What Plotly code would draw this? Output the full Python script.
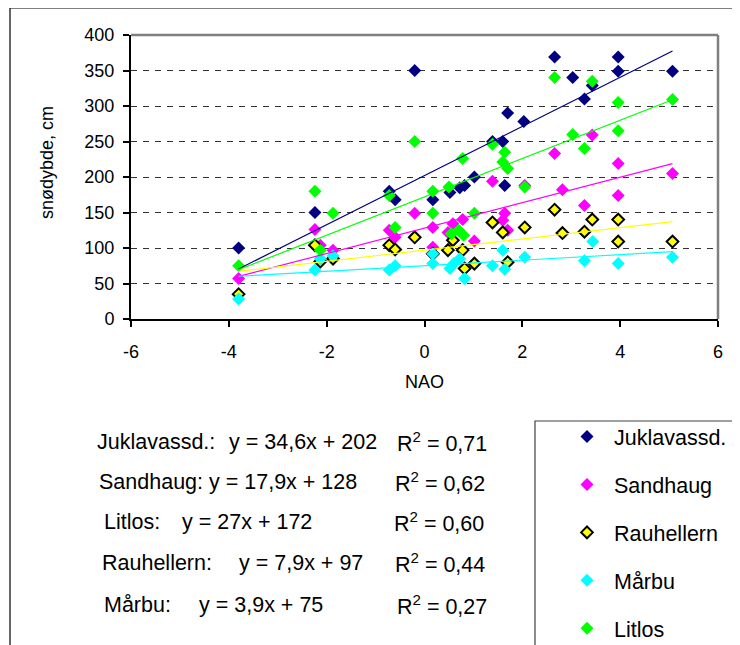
import plotly.graph_objects as go

# ---------------- data ----------------
stations = ["Juklavassd.", "Sandhaug", "Rauhellern", "Mårbu", "Litlos"]

jukl_x = [-3.8, -2.24, -0.72, -0.6, -0.2, 0.17, 0.52, 0.72, 0.82, 1.02, 1.39, 1.6, 1.64, 1.7, 2.03, 2.66, 3.03, 3.27, 3.43, 3.96, 3.96, 5.07]
jukl_y = [100, 150, 180, 168, 350, 168, 178, 185, 188, 200, 250, 250, 188, 290, 278, 369, 340, 310, 329, 369, 349, 349]

sand_x = [-3.8, -2.24, -2.13, -1.87, -0.72, -0.6, -0.2, 0.17, 0.17, 0.48, 0.58, 0.78, 1.02, 1.39, 1.6, 1.64, 1.7, 2.05, 2.66, 2.82, 3.27, 3.43, 3.96, 3.96, 5.07]
sand_y = [57, 126, 104, 97, 125, 115, 149, 129, 101, 122, 134, 140, 110, 194, 139, 149, 125, 188, 233, 182, 160, 259, 219, 174, 205]

rauh_x = [-3.8, -2.24, -2.13, -1.87, -0.72, -0.6, -0.2, 0.17, 0.48, 0.58, 0.78, 0.82, 1.02, 1.39, 1.6, 1.7, 2.05, 2.66, 2.82, 3.27, 3.43, 3.96, 3.96, 5.07]
rauh_y = [35, 104, 81, 85, 104, 98, 115, 92, 97, 111, 97, 71, 78, 136, 122, 80, 129, 154, 121, 123, 140, 140, 109, 109]

marb_x = [-3.8, -2.24, -2.13, -1.87, -0.72, -0.6, 0.17, 0.17, 0.52, 0.6, 0.72, 0.82, 1.39, 1.6, 1.64, 2.05, 3.27, 3.44, 3.96, 5.07]
marb_y = [28, 69, 85, 89, 69, 75, 78, 92, 71, 78, 85, 57, 75, 97, 70, 87, 82, 109, 78, 87]

litl_x = [-3.8, -2.24, -2.13, -1.87, -0.72, -0.6, -0.2, 0.17, 0.17, 0.5, 0.55, 0.7, 0.8, 0.78, 1.02, 1.39, 1.6, 1.64, 1.7, 2.05, 2.66, 3.03, 3.27, 3.43, 3.96, 3.96, 5.07]
litl_y = [75, 180, 97, 149, 174, 129, 250, 180, 149, 186, 120, 125, 118, 226, 149, 246, 221, 235, 212, 186, 340, 260, 240, 335, 305, 265, 309]

slopes = [34.6, 17.9, 7.9, 3.9, 27]
intercepts = [202, 128, 97, 75, 172]
r2 = ["0,71", "0,62", "0,44", "0,27", "0,60"]

x_ticks = [-6, -4, -2, 0, 2, 4, 6]
y_ticks = [0, 50, 100, 150, 200, 250, 300, 350, 400]

# ---------------- styling ----------------
colors = ["#000080", "#FF00FF", "#FFFF00", "#00FFFF", "#00FF00"]
FONT = "Liberation Sans, Arial, sans-serif"

OFF = 8                      # page body margin
W, H = 740 - OFF, 645 - OFF  # figure size
L, R, T, B = 131, 718, 35, 319  # plot area in page pixels


def px(x):
    return (x - L) / (R - L)


def py(y):
    return (B - y) / (B - T)


series = [(jukl_x, jukl_y), (sand_x, sand_y), (rauh_x, rauh_y), (marb_x, marb_y), (litl_x, litl_y)]

fig = go.Figure()
for i, (name, (xs, ys)) in enumerate(zip(stations, series)):
    line = dict(width=2, color="black") if name == "Rauhellern" else dict(width=0)
    fig.add_trace(go.Scatter(
        x=xs, y=ys, mode="markers", name=name, legendgroup=name,
        marker=dict(symbol="diamond", size=10 if name != "Rauhellern" else 9,
                    color=colors[i], line=line),
    ))

for i, (xs, ys) in enumerate(series):
    x0, x1 = min(xs), max(xs)
    fig.add_trace(go.Scatter(
        x=[x0, x1], y=[slopes[i] * x0 + intercepts[i], slopes[i] * x1 + intercepts[i]],
        mode="lines", line=dict(color=colors[i], width=1.2), showlegend=False, hoverinfo="skip",
    ))

fig.update_xaxes(range=[-6, 6], tickvals=x_ticks, ticktext=[str(v) for v in x_ticks],
                 showgrid=False, zeroline=False, showline=True, linecolor="black", linewidth=2,
                 ticks="outside", ticklen=6, tickwidth=1.5, tickcolor="black", ticklabelstandoff=9,
                 tickfont=dict(family=FONT, size=18, color="black"), fixedrange=True)
fig.update_yaxes(range=[0, 400], tickvals=y_ticks, ticktext=[str(v) for v in y_ticks],
                 showgrid=True, gridcolor="#333333", griddash="6px,6px", gridwidth=1,
                 zeroline=False, showline=True, linecolor="black", linewidth=2,
                 ticks="outside", ticklen=6, tickwidth=1.5, tickcolor="black", ticklabelstandoff=5,
                 tickfont=dict(family=FONT, size=18, color="black"), fixedrange=True)

shapes = [
    # outer chart frame
    dict(type="rect", xref="paper", yref="paper", x0=px(10), x1=px(800), y0=py(8), y1=py(700),
         line=dict(color="black", width=1.2), fillcolor="rgba(0,0,0,0)", layer="below"),
    # plot area border (top/right)
    dict(type="line", xref="paper", yref="paper", x0=0, x1=1, y0=1, y1=1,
         line=dict(color="#808080", width=2.5)),
    dict(type="line", xref="paper", yref="paper", x0=1, x1=1, y0=0, y1=1,
         line=dict(color="#808080", width=2.5)),
    # legend box
    dict(type="rect", xref="paper", yref="paper", x0=px(535), x1=px(800), y0=py(421), y1=py(700),
         line=dict(color="#404040", width=1.2), fillcolor="rgba(0,0,0,0)"),
]

ann = [
    dict(text="snødybde, cm", x=px(47), y=py(163), textangle=-90, font=dict(size=18)),
    dict(text="NAO", x=px(424), y=py(382), font=dict(size=18)),
]


def fmt(v):
    return f"{v:g}".replace(".", ",")


# equation rows: (station index, label x, eq x, r2 x, row y)
rows = [(0, 95, 227, 395, 442), (1, 97, 207, 393, 482), (4, 102, 180, 392, 522),
        (2, 100, 237, 393, 563), (3, 102, 197, 395, 605)]
for idx, lx, ex, rx, ry in rows:
    nm = "Juklavassd.:" if stations[idx] == "Juklavassd." else stations[idx] + ":"
    ann.append(dict(text=nm, x=px(lx), y=py(ry), xanchor="left", font=dict(size=21.5)))
    ann.append(dict(text=f"y = {fmt(slopes[idx])}x + {fmt(intercepts[idx])}", x=px(ex), y=py(ry),
                    xanchor="left", font=dict(size=21.5)))
    ann.append(dict(text=f"R<sup>2</sup> = {r2[idx]}", x=px(rx), y=py(ry), xanchor="left",
                    font=dict(size=21.5)))

for a in ann:
    a.setdefault("xanchor", "center")
    a.update(xref="paper", yref="paper", yanchor="middle", showarrow=False)
    a["font"] = dict(family=FONT, color="black", size=a["font"]["size"])

fig.update_layout(
    width=W, height=H,
    margin=dict(l=L - OFF, r=W - (R - OFF), t=T - OFF, b=H - (B - OFF), autoexpand=False),
    plot_bgcolor="white", paper_bgcolor="white",
    shapes=shapes, annotations=ann,
    showlegend=True,
    legend=dict(x=px(560), y=py(416), xanchor="left", yanchor="top",
                font=dict(family=FONT, size=21.5, color="black"),
                bgcolor="rgba(0,0,0,0)", borderwidth=0, tracegroupgap=17, itemwidth=44,
                itemclick=False, itemdoubleclick=False),
)

fig.write_html("out.html")
